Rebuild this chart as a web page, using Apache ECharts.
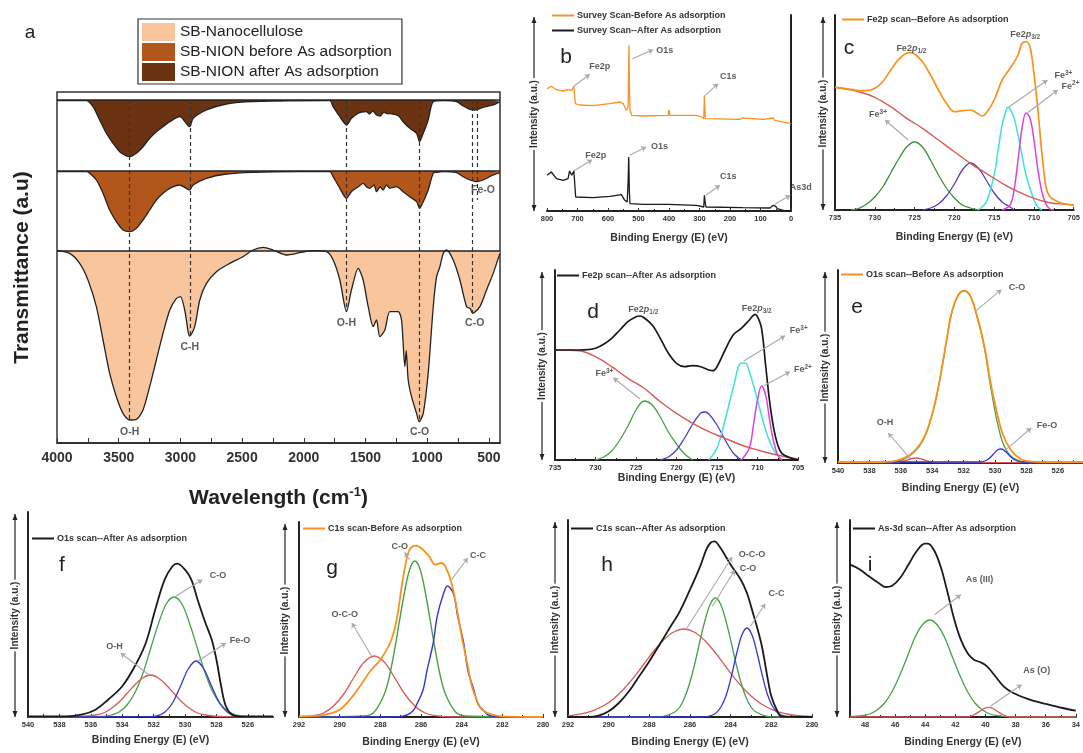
<!DOCTYPE html>
<html><head><meta charset="utf-8">
<script src="https://cdn.jsdelivr.net/npm/echarts@6/dist/echarts.min.js"></script>
<style>html,body{margin:0;padding:0;background:#fff}#c{width:1083px;height:753px}</style>
</head><body><div id="c"></div>
<script>
// ---------------- DATA ----------------
// (a) FTIR, relative transmittance (0 = baseline of each stacked spectrum)
const ftirNames = ['SB-Nanocellulose','SB-NION before As adsorption','SB-NION after As adsorption'];
const ftirNanocellulose = [[4000,0],[3897,-2.7],[3816,-12.7],[3749,-29.3],[3681,-56],[3627,-89.3],[3573,-122.7],[3519,-146],[3465,-162.7],[3411,-169.3],[3357,-168.7],[3303,-159.3],[3249,-136],[3195,-109.3],[3141,-82.7],[3086,-59.3],[3032,-47.7],[3000,-46],[2965,-59.3],[2935,-82.7],[2924,-85.3],[2884,-76],[2843,-49.3],[2789,-32.7],[2708,-21],[2600,-12.7],[2492,-6],[2411,0.7],[2330,3.3],[2249,0.7],[2141,-4.3],[2032,-2],[1924,0],[1816,-1],[1762,-9.3],[1708,-29.3],[1654,-61],[1614,-39.3],[1559,-17.7],[1519,-29.3],[1478,-56],[1438,-76],[1411,-69.3],[1384,-86],[1343,-79.3],[1303,-61],[1235,-61],[1208,-69.3],[1181,-116],[1170,-100],[1154,-129.3],[1127,-146],[1086,-162.7],[1065,-171],[1032,-162.7],[992,-122.7],[951,-56],[924,-26],[897,-16],[870,-2.7],[843,0.7],[789,-9.3],[735,-29.3],[681,-56],[650,-58],[632,-62.7],[573,-56],[519,-39.3],[465,-22.7],[411,-2.7]];
const ftirNionBefore = [[4000,-0.7],[3762,-0.7],[3735,-2.3],[3681,-9],[3627,-22.3],[3573,-39],[3519,-50.7],[3465,-59],[3411,-60.7],[3357,-57.3],[3303,-49],[3249,-39],[3195,-29],[3141,-22.3],[3086,-17.3],[3005,-14],[2925,-19],[2897,-14],[2789,-7.3],[2627,-3],[2411,-1.3],[2032,-0.7],[1789,-0.7],[1762,-5.7],[1708,-17.3],[1654,-27.3],[1614,-20.7],[1559,-15.7],[1519,-12.3],[1490,-16],[1465,-17.3],[1430,-14],[1411,-20.7],[1380,-16],[1357,-19],[1330,-14],[1303,-17.3],[1249,-15.7],[1195,-20.7],[1141,-25.7],[1086,-30.7],[1062,-37.3],[1032,-30.7],[992,-19],[951,-2.3],[924,-1.3],[870,-0.7],[762,-1.7],[708,-5.7],[654,-9],[600,-10.7],[546,-9],[465,-4],[411,-1.7]];
const ftirNionAfter = [[4000,-0.7],[3762,-0.7],[3708,-6.7],[3654,-20],[3600,-33.3],[3546,-43.3],[3492,-51.7],[3438,-56],[3411,-56.7],[3357,-53.3],[3303,-46.7],[3249,-38.3],[3195,-31.7],[3141,-26.7],[3086,-21.7],[3005,-16.7],[2925,-26.7],[2897,-18.3],[2789,-10],[2627,-4],[2411,-1.7],[1789,-0.7],[1762,-6.7],[1708,-16.7],[1654,-25],[1614,-18.3],[1559,-13.3],[1530,-12],[1492,-11.7],[1470,-14],[1440,-11],[1411,-15],[1380,-16],[1350,-12],[1330,-13.3],[1280,-14],[1249,-15],[1230,-16],[1195,-21.7],[1141,-28.3],[1086,-33.3],[1062,-41.7],[1032,-33.3],[992,-20],[951,-1.7],[870,-0.7],[762,-1.7],[708,-6],[654,-9.3],[614,-10],[546,-7.3],[465,-5],[411,-1.7]];
const ftirBands = [3411,2924,1654,1065,632,595];
const ftirBandLabels = [['O-H',3411],['C-H',2924],['O-H',1654],['C-O',1062],['C-O',615],['Fe-O',548]];
const ftirTickLabels = [4000,3500,3000,2500,2000,1500,1000,500];

// (b) survey
const surveyNames = ['Survey Scan-Before As adsorption','Survey Scan--After As adsorption'];
const surveyBefore = [[800,122.3],[786,124.7],[769,121.3],[747,120],[731,121.3],[726,123.3],[719,120.7],[712,124.7],[707,107.3],[693,106],[649,105.3],[594,107.3],[561,109],[550,107.3],[540,100.7],[534,104],[532,150],[531,165.7],[530,130],[528,100.7],[522,95.7],[485,95],[403,95.7],[400,101.3],[397,95.7],[310,95.7],[293,94],[286,92.3],[284,115.7],[282,98],[280,92.3],[277,90.7],[167,91.7],[160,93],[155,91.7],[91,91.7],[58,93],[53,90.7],[0,87.3]];
const surveyAfter = [[800,35.7],[786,39],[769,32.3],[747,30.7],[731,32.3],[726,40],[719,35.7],[712,40],[706,14],[649,13.3],[594,14.7],[556,16.3],[545,10.7],[537,9],[534,30],[532,54],[530,20],[528,7.3],[485,6.7],[403,6.7],[400,8],[397,6.7],[310,5.7],[286,4],[284,15.7],[282,10],[279,4],[157,3.3],[69,3],[58,5.7],[50,4.7],[45,2.3],[25,0.7],[0,0]];

// (c) Fe2p before
const fe2pBeforeEnvelope = [[735,122.7],[733,120.7],[732,119.3],[731,119.3],[730,121.7],[729,128.3],[728,140],[727,150.7],[726,156.7],[725.5,157.3],[725,156],[724,148.3],[723,135],[722,120],[721,106.7],[720,98.3],[719,99.3],[718,100],[717,96],[716.5,94],[716,96.7],[715,110],[714,130],[713,141.7],[712,155],[711.5,166.7],[711,168.3],[710.5,163.3],[710,136.7],[709.5,100],[709,56.7],[708.5,23.3],[708,13.3],[707,8.3],[706,6],[705,5]];
const fe2pBeforeBackground = [[735,122.7],[732,118.3],[730,112.7],[728,103.3],[726,91.7],[724,81.7],[722,70],[720,58.3],[718,46.7],[716,36.7],[714,26.7],[712,18.3],[710,11.7],[708,7.3],[706,5.7],[705,5]];
const fe2pBeforeFe3Sat = [[733,0],[732,1.7],[731,6],[730,13],[729,23],[728,37],[727,51],[726,63],[725,68],[724,63],[723,50],[722,35],[721,22],[720,12],[719,5],[718,2],[717,0]];
const fe2pBeforeSat = [[724,0],[723,2],[722,6],[721,14],[720,26],[719,40],[718,47],[717,42],[716,30],[715,17],[714,8],[713,3],[712.5,0]];
const fe2pBeforeFe3 = [[717,0],[716,8],[715,35],[714.5,60],[714,85],[713.5,100],[713.3,102.7],[713,101],[712.5,92],[712,75],[711.5,55],[711,35],[710,10],[709.5,3],[709,0]];
const fe2pBeforeFe2 = [[714,0],[713,5],[712.5,20],[712,50],[711.5,82],[711,97],[710.5,92],[710,70],[709.5,40],[709,18],[708.5,6],[708,1],[707.5,0]];

// (d) Fe2p after
const fe2pAfterEnvelope = [[735,110],[733,110],[732,110],[731,110.3],[730,111.7],[729,115.7],[728,121.7],[727,130],[726,138.3],[725,143.3],[724.5,144],[724,142.3],[723,135],[722,121.7],[721,106.7],[720,96.7],[719,93.3],[718,94.3],[717,93.3],[716,90],[715.5,89.3],[715,93.3],[714,110],[713,125],[712,131.7],[711,140],[710.3,145.7],[710,143.3],[709.5,131.7],[709,95],[708.5,58.3],[708,31.7],[707.5,15],[707,6.7],[706,2.3],[705,0]];
const fe2pAfterBackground = [[735,110],[732,109.3],[730,103.3],[728,93.3],[726,81.7],[724,71.7],[722,58.3],[720,46.7],[718,36.7],[716,28.3],[714,21.7],[712,15],[710,10],[708,5.7],[706,2.3],[705,1]];
const fe2pAfterFe3Sat = [[730,0],[729,3],[728,9],[727,20],[726,34],[725,50],[724,59],[723,55],[722,43],[721,28],[720,16],[719,6],[718,0]];
const fe2pAfterSat = [[722,0],[721,3],[720,10],[719,22],[718,36],[717,47],[716.5,48],[716,46],[715,35],[714,20],[713,7],[712,0]];
const fe2pAfterFe3 = [[716,0],[715,12],[714,40],[713,72],[712,97],[711.5,97],[711,88],[710,60],[709,30],[708,10],[707,0]];
const fe2pAfterFe2 = [[712,0],[711,12],[710.5,35],[710,60],[709.5,74],[709,65],[708.5,40],[708,18],[707.5,5],[707,0]];

// (e) O1s before
const o1sBeforeEnvelope = [[540,1],[537.5,1],[536.5,1.7],[535.9,4.3],[535.4,8.3],[534.8,18.3],[534.35,31.7],[533.9,55],[533.5,85],[533.1,121.7],[532.8,148],[532.4,166.7],[532.0,172.3],[531.6,167.7],[531.2,150],[530.7,118.3],[530.3,81.7],[529.9,51.7],[529.5,28.3],[529.0,13.3],[528.4,4.3],[527.8,1.7],[526.9,1],[524.4,1]];
const o1sBeforeCO = [[540,0.5],[536.5,0.5],[535.9,3],[535.4,7.5],[534.8,17],[534.35,31],[533.9,54.5],[533.5,84.5],[533.1,121],[532.8,147.5],[532.4,166],[532.0,172],[531.6,167.5],[531.2,149.5],[530.7,117],[530.3,78],[529.9,44],[529.5,20],[529.0,7],[528.4,2],[527.8,0.5],[524.4,0.5]];
const o1sBeforeOH = [[540,0.3],[536.3,0.3],[535.8,2],[535.3,4.5],[535.0,5],[534.6,3.5],[534.2,1.5],[533.7,0.3],[524.4,0.3]];
const o1sBeforeFeO = [[540,1],[531.0,1],[530.5,3],[530.1,9],[529.8,13.5],[529.6,14],[529.3,11],[529.0,6],[528.6,2],[528.2,1],[525.6,1]];

// (f) O1s after
const o1sAfterEnvelope = [[540,0.7],[537.6,0.7],[536.6,2.3],[535.7,7.3],[534.9,17.3],[534.0,30.7],[533.2,50.7],[532.5,74],[531.9,107.3],[531.3,137.3],[530.8,150.7],[530.5,153.3],[530.0,147.3],[529.6,137.3],[529.2,117.3],[528.7,94],[528.3,77.3],[528.0,57.3],[527.7,30.7],[527.4,10.7],[527.0,2.3],[526.5,0.7],[524.4,0.7]];
const o1sAfterCO = [[540,0],[535.2,0.5],[534.7,2],[534.2,5],[533.7,12],[533.2,24],[532.7,43],[532.2,68],[531.7,93],[531.2,113],[530.7,120],[530.2,113],[529.7,93],[529.2,68],[528.7,43],[528.2,24],[527.7,12],[527.2,5],[526.7,2],[526.2,0.5],[524.4,0]];
const o1sAfterOH = [[540,0],[536.7,0.5],[536.2,1],[535.7,2],[535.2,4],[534.7,8.5],[534.2,15],[533.7,23.5],[533.2,32],[532.7,39],[532.2,42],[531.7,39],[531.2,32],[530.7,23.5],[530.2,15],[529.7,8.5],[529.2,4],[528.7,2],[528.2,1],[527.5,0.3],[524.4,0]];
const o1sAfterFeO = [[540,0],[532.3,0.3],[531.8,1],[531.3,4.7],[530.8,14],[530.3,30.5],[529.8,48],[529.3,56],[528.8,48],[528.3,30.5],[527.8,14],[527.3,4.7],[526.8,1],[526.3,0.3],[524.4,0]];

// (g) C1s before
const c1sBeforeEnvelope = [[292,0.7],[291,1.3],[290.5,3.3],[290,7.3],[289.5,17.3],[289,30.7],[288.5,45.7],[288,57.3],[287.5,75],[287.2,97],[286.9,137],[286.6,165.7],[286.3,171.3],[286,169],[285.6,160.7],[285.3,152.3],[285,154],[284.8,150.7],[284.5,134],[284.2,104],[284,80.7],[283.7,50.7],[283.5,30.7],[283.2,14],[283,7.3],[282.5,2.3],[282,0.7],[280,0]];
const c1sBeforeOCO = [[292,0],[291.3,1.3],[290.8,4],[290.3,11],[289.8,23],[289.3,39.5],[288.8,54.7],[288.3,61],[287.8,54.7],[287.3,39.5],[286.8,23],[286.3,11],[285.8,4],[285.3,1.3],[284.5,0],[280,0]];
const c1sBeforeCO = [[292,0],[288.8,1],[288.3,5],[287.8,23],[287.55,41],[287.3,67],[287.05,97],[286.8,126],[286.55,148],[286.3,156],[286.05,148],[285.8,126],[285.55,97],[285.3,67],[285.05,41],[284.8,23],[284.3,5],[283.8,1],[280,0]];
const c1sBeforeCC = [[292,0],[287.2,0],[286.7,2],[286.4,6],[286.2,13],[285.9,27],[285.7,47],[285.4,74],[285.2,101],[284.9,123],[284.7,131],[284.4,123],[284.2,101],[283.9,74],[283.7,47],[283.4,27],[283.2,13],[282.9,6],[282.7,2],[282.2,0],[280,0]];

// (h) C1s after
const c1sAfterEnvelope = [[292,0],[291,0],[290.5,1.3],[290,5.7],[289.5,14],[289,25.7],[288.5,40.7],[288,55.7],[287.5,72.3],[287,89],[286.5,105.7],[286,127.3],[285.5,150.7],[285.2,167.3],[285,174],[284.8,175.7],[284.5,169],[284,152.3],[283.5,137.3],[283.2,124],[283,110.7],[282.5,74],[282.2,40.7],[282,20.7],[281.7,5.7],[281.5,0.7],[280,0]];
const c1sAfterOCO = [[292,1],[291.3,3.3],[290.8,6.2],[290.3,10.8],[289.8,17.6],[289.3,27],[288.8,38.6],[288.3,52],[287.8,65.5],[287.3,77],[286.8,85],[286.3,88],[285.8,85],[285.3,77],[284.8,65.5],[284.3,52],[283.8,38.6],[283.3,27],[282.8,17.6],[282.3,10.8],[281.8,6.2],[281.3,3.3],[280.8,1.5],[280,0.5]];
const c1sAfterCO = [[292,0],[287.6,0],[287.25,0.9],[286.75,5],[286.5,10],[286.25,20],[286.0,35],[285.75,54.5],[285.5,77],[285.25,97.5],[285.0,113],[284.75,119],[284.5,113],[284.25,97.5],[284.0,77],[283.75,54.5],[283.5,35],[283.25,20],[283.0,10],[282.75,5],[282.25,0.9],[281.9,0],[280,0]];
const c1sAfterCC = [[292,0],[285.3,0],[284.95,1.5],[284.7,4.4],[284.45,11],[284.2,23],[283.95,42],[283.7,64],[283.45,82],[283.2,89],[282.95,82],[282.7,64],[282.45,42],[282.2,23],[281.95,11],[281.7,4.4],[281.45,1.5],[281.1,0],[280,0]];

// (i) As3d after
const as3dEnvelope = [[49,152.3],[48.4,148],[47.74,140.7],[47.1,134],[46.65,130],[46.2,131.3],[45.67,139],[45.12,152.3],[44.58,165.7],[44.03,173.3],[43.82,173.3],[43.38,165.7],[42.95,149],[42.51,124],[42.07,97.3],[41.64,77.3],[41.2,64],[40.77,57.3],[40.33,54.7],[39.9,50.7],[39.35,40.7],[38.8,30.7],[38.15,24],[37.06,17.3],[35.97,13],[34.88,9],[34,6.3]];
const as3dAsIII = [[49,0.3],[48.2,1.3],[47.7,3],[47.2,7],[46.7,14],[46.2,25.5],[45.7,41.5],[45.2,60],[44.7,79],[44.2,92],[43.7,97],[43.2,92],[42.7,79],[42.2,60],[41.7,41.5],[41.2,25.5],[40.7,14],[40.2,7],[39.7,3],[39.2,1.3],[38.5,0.3],[34,0]];
const as3dAsO = [[49,0],[41.2,0],[40.8,2],[40.4,5.5],[40.1,8.5],[39.8,9.7],[39.5,8.5],[39.2,5.5],[38.8,2],[38.4,0],[34,0]];

const eLabels = [540,538,536,534,532,530,528,526];

// ---------------- LAYOUT ----------------
const FONT = "'Liberation Sans', Arial, sans-serif";
const keys = ['a','b','c','d','e','f','g','h','i'];
const L = {
  a:{left:57,top:92,width:443,height:351},
  b:{left:547,top:15,width:244,height:196},
  c:{left:835,top:15,width:245,height:195},
  d:{left:555,top:270,width:243,height:190},
  e:{left:838,top:270,width:245,height:193},
  f:{left:28,top:512,width:245,height:205},
  g:{left:299,top:522,width:244,height:195},
  h:{left:568,top:520,width:244,height:197},
  i:{left:850,top:520,width:233,height:197}
};
const gi = k => keys.indexOf(k);
const C = {orange:'#F7931E', black:'#1a1a1a', green:'#4A9E4A', blue:'#3636D2', red:'#D65A55', cyan:'#40E2D6', magenta:'#E041E0',
  light:'#F8C59C', mid:'#B3561B', dark:'#6B3311'};
const rich = {
  sub:{fontSize:6.5,fontWeight:'bold',color:'#333',fontFamily:FONT,padding:[5,0,0,0]},
  sup:{fontSize:6.5,fontWeight:'bold',color:'#333',fontFamily:FONT,padding:[0,0,6,0]},
  it:{fontSize:9,fontWeight:'bold',fontStyle:'italic',color:'#333',fontFamily:FONT}
};

const grid = keys.map(k => Object.assign({containLabel:false}, L[k], k==='a'?{show:true,borderColor:'#333',borderWidth:1.5}:{}));

function rangeTicks(a,b,s){const r=[];for(let v=a;v<=b+1e-9;v+=s)r.push(+v.toFixed(2));return r;}
const xCfg = {
  a:{min:410,max:4000,labels:ftirTickLabels,ticks:rangeTicks(500,4000,250)},
  b:{min:0,max:800,interval:100},
  c:{min:705,max:735,interval:5},
  d:{min:705,max:735,interval:5},
  e:{min:524.4,max:540,labels:eLabels,ticks:rangeTicks(525,540,1)},
  f:{min:524.4,max:540,labels:eLabels,ticks:rangeTicks(525,540,1)},
  g:{min:280,max:292,interval:2},
  h:{min:280,max:292,interval:2},
  i:{min:34,max:49,interval:2}
};
const nameGap = {b:22,c:22,d:12,e:20,f:18,g:20,h:20,i:20};
const xAxis = keys.map((k,idx) => {
  const c = xCfg[k];
  const ax = {type:'value', gridIndex:idx, min:c.min, max:c.max, inverse:true, splitLine:{show:false},
    axisLine:{show:true, onZero:false, lineStyle:{color:'#222', width:k==='a'?1.5:2}},
    axisTick:{show:true, inside:true, length:k==='a'?5:3, lineStyle:{color:'#333'}},
    axisLabel:{fontFamily:FONT, fontWeight:'bold', color:'#333', fontSize:k==='a'?14:7.5, margin:k==='a'?8:4, formatter:v => String(v),
      showMaxLabel: k==='i' ? false : null},
    name:'Binding Energy (E) (eV)', nameLocation:'middle', nameGap:nameGap[k],
    nameTextStyle:{fontFamily:FONT, fontWeight:'bold', fontSize:10.5, color:'#333'}};
  if (c.interval) { ax.interval = c.interval; ax.minorTick = {show:true, splitNumber:2, length:2}; }
  if (c.labels) { ax.axisLabel.customValues = c.labels; ax.axisTick.customValues = c.ticks; }
  if (k==='a') {
    ax.name = 'Wavelength (cm{sup|-1})';
    ax.nameGap = 43;
    ax.nameTextStyle = {fontFamily:FONT, fontWeight:'bold', fontSize:21, color:'#222',
      rich:{sup:{fontFamily:FONT, fontWeight:'bold', fontSize:13, color:'#222', padding:[0,0,12,0]}}};
  }
  return ax;
});
const yAxis = keys.map((k,idx) => {
  const ax = {type:'value', gridIndex:idx, min:0, max:L[k].height, splitLine:{show:false}, axisTick:{show:false}, axisLabel:{show:false},
    axisLine:{show:k!=='a', lineStyle:{color:'#222', width:2}}};
  if (k==='a') { ax.max = 351; ax.name = 'Transmittance (a.u)'; ax.nameLocation='middle'; ax.nameGap=24;
    ax.nameTextStyle={fontFamily:FONT, fontWeight:'bold', fontSize:21, color:'#222'}; }
  return ax;
});

// ---------------- SERIES ----------------
const series = [];
function line(k, name, data, color, width, z, smooth){
  series.push({type:'line', name, xAxisIndex:gi(k), yAxisIndex:gi(k), data, symbol:'none', smooth:smooth===undefined?0.35:smooth,
    lineStyle:{color, width}, itemStyle:{color}, z:z||2, silent:true, animation:false});
}
function arrows(k, list){
  series.push({type:'lines', coordinateSystem:'cartesian2d', xAxisIndex:gi(k), yAxisIndex:gi(k), clip:false, silent:true, z:8,
    symbol:['none','arrow'], symbolSize:5, lineStyle:{color:'#aaa', width:1.1, opacity:1, curveness:0}, animation:false,
    data:list.map(c => ({coords:c}))});
}
function texts(k, list, size){
  series.push({type:'scatter', xAxisIndex:gi(k), yAxisIndex:gi(k), symbolSize:0, clip:false, silent:true, z:9, animation:false,
    label:{show:true, position:'inside', fontFamily:FONT, fontWeight:'bold', fontSize:size||9, color:'#333', rich},
    data:list.map(t => ({value:[t[0],t[1]], label:{formatter:t[2]}}))});
}

// (a) stacked FTIR with fills hanging from each baseline
const aBase = [192.3, 272, 343];
const aSets = [ftirNanocellulose, ftirNionBefore, ftirNionAfter];
const aFill = [C.light, C.mid, C.dark];
aSets.forEach((set,j) => {
  series.push({type:'line', name:ftirNames[j], xAxisIndex:0, yAxisIndex:0, symbol:'none', smooth:0.25, silent:true, animation:false,
    data:set.map(p => [p[0], aBase[j] + p[1]]), lineStyle:{color:'#222', width:1.3}, itemStyle:{color:aFill[j]},
    areaStyle:{color:aFill[j], opacity:1, origin:aBase[j]}, z:2});
});
series.push({type:'lines', coordinateSystem:'cartesian2d', xAxisIndex:0, yAxisIndex:0, silent:true, z:3, animation:false,
  lineStyle:{color:'#222', width:1.6, opacity:1},
  data:aBase.map(v => ({coords:[[410,v],[4000,v]]}))});
const aBottomEnds = [23, 107, 131, 21, 130, 243];
series.push({type:'lines', coordinateSystem:'cartesian2d', xAxisIndex:0, yAxisIndex:0, silent:true, z:4, animation:false,
  lineStyle:{color:'#333', width:1.2, type:[4,3], opacity:1},
  data:ftirBands.map((x,j) => ({coords:[[x,aBase[2]],[x,aBottomEnds[j]]]}))});
texts('a', [[ftirBandLabels[0][1],11,'O-H'],[ftirBandLabels[1][1],96,'C-H'],[ftirBandLabels[2][1],120,'O-H'],[ftirBandLabels[3][1],11,'C-O'],[ftirBandLabels[4][1],120,'C-O'],[ftirBandLabels[5][1],253,'Fe-O']], 10.5);

// (b)
line('b', surveyNames[0], surveyBefore, C.orange, 1.3, 3, false);
line('b', surveyNames[1], surveyAfter, C.black, 1.3, 3, false);
arrows('b', [[[712,124.7],[660,136.7]], [[520,152.3],[452,161.3]], [[281,115.7],[239,127.3]],
             [[712,40],[652,51.3]], [[529,55.7],[475,64]], [[279,15.7],[233,25.7]], [[53,6.7],[2,15.7]]]);
texts('b', [[627,144,'Fe2p'],[414,160.7,'O1s'],[206,134.7,'C1s'],[640,55.7,'Fe2p'],[431,64,'O1s'],[206,34,'C1s'],[-32,23,'As3d']]);

// (c)
const cN = 'Fe2p scan--Before As adsorption';
line('c', cN, fe2pBeforeEnvelope, C.orange, 1.7, 4);
line('c', 'c-bg', fe2pBeforeBackground, C.red, 1.4, 3);
line('c', 'c-g', fe2pBeforeFe3Sat, '#3F8F3F', 1.3, 2);
line('c', 'c-b', fe2pBeforeSat, '#4B3FC4', 1.3, 2);
line('c', 'c-c', fe2pBeforeFe3, C.cyan, 1.5, 2);
line('c', 'c-m', fe2pBeforeFe2, C.magenta, 1.5, 2);
arrows('c', [[[713.2,102.7],[708.3,130]], [[710.8,97.3],[707.0,120]], [[725.8,70],[728.7,90]]]);
texts('c', [[725.4,161.7,'Fe2{it|p}{sub|1/2}'],[711.1,175,'Fe2{it|p}{sub|3/2}'],[706.3,134,'Fe{sup|3+}'],[705.4,123.3,'Fe{sup|2+}'],[729.6,95,'Fe{sup|3+}']]);

// (d)
const dN = 'Fe2p scan--After As adsorption';
line('d', dN, fe2pAfterEnvelope, C.black, 1.7, 4);
line('d', 'd-bg', fe2pAfterBackground, C.red, 1.4, 3);
line('d', 'd-g', fe2pAfterFe3Sat, C.green, 1.3, 2);
line('d', 'd-b', fe2pAfterSat, '#4B3FC4', 1.3, 2);
line('d', 'd-c', fe2pAfterFe3, C.cyan, 1.5, 2);
line('d', 'd-m', fe2pAfterFe2, C.magenta, 1.5, 2);
arrows('d', [[[711.7,99],[706.6,124.3]], [[709.2,74.3],[706,88.3]], [[724.5,61],[727.8,82.3]]]);
texts('d', [[724.1,150,'Fe2{it|p}{sub|1/2}'],[710.1,151,'Fe2{it|p}{sub|3/2}'],[704.9,129,'Fe{sup|3+}'],[704.4,90,'Fe{sup|2+}'],[728.9,86,'Fe{sup|3+}']]);

// (e)
const eN = 'O1s scan--Before As adsorption';
line('e', 'e-g', o1sBeforeCO, C.green, 1.3, 2);
line('e', 'e-r', o1sBeforeOH, C.red, 1.3, 2);
line('e', 'e-b', o1sBeforeFeO, C.blue, 1.3, 2);
line('e', eN, o1sBeforeEnvelope, C.orange, 1.8, 4);
arrows('e', [[[531.2,152.3],[529.6,173.3]], [[535.4,4.3],[536.8,30]], [[529.3,13.3],[527.7,35]]]);
texts('e', [[528.6,175,'C-O'],[537.0,40,'O-H'],[526.7,37.7,'Fe-O']]);

// (f)
const fN = 'O1s scan--After As adsorption';
line('f', 'f-g', o1sAfterCO, C.green, 1.3, 2);
line('f', 'f-r', o1sAfterOH, C.red, 1.3, 2);
line('f', 'f-b', o1sAfterFeO, C.blue, 1.3, 2);
line('f', fN, o1sAfterEnvelope, C.black, 1.8, 4);
arrows('f', [[[530.6,120.7],[528.9,137.3]], [[532.3,42.3],[534.1,64]], [[529.2,55.7],[527.4,74]]]);
texts('f', [[527.9,141.3,'C-O'],[534.5,70.7,'O-H'],[526.5,76.7,'Fe-O']]);

// (g)
const gN = 'C1s scan-Before As adsorption';
line('g', 'g-r', c1sBeforeOCO, C.red, 1.3, 2);
line('g', 'g-g', c1sBeforeCO, C.green, 1.4, 2);
line('g', 'g-b', c1sBeforeCC, C.blue, 1.4, 2);
line('g', gN, c1sBeforeEnvelope, C.orange, 1.8, 4);
arrows('g', [[[286.56,157.3],[286.8,164.7]], [[284.5,137.3],[283.7,159]], [[288.44,61.3],[289.4,94]]]);
texts('g', [[287.05,170.7,'C-O'],[283.2,161.3,'C-C'],[289.75,102.3,'O-C-O']]);

// (h)
const hN = 'C1s scan--After As adsorption';
line('h', 'h-r', c1sAfterOCO, C.red, 1.3, 2);
line('h', 'h-g', c1sAfterCO, C.green, 1.3, 2);
line('h', 'h-b', c1sAfterCC, C.blue, 1.3, 2);
line('h', hN, c1sAfterEnvelope, C.black, 1.8, 4);
arrows('h', [[[286.15,89],[283.93,160]], [[284.9,110.7],[283.8,146.7]], [[283.03,90.7],[282.3,113.3]]]);
texts('h', [[282.95,162.3,'O-C-O'],[283.15,148,'C-O'],[281.75,123.3,'C-C']]);

// (i)
const iN = 'As-3d scan--After As adsorption';
line('i', 'i-g', as3dAsIII, C.green, 1.3, 2);
line('i', 'i-r', as3dAsO, C.red, 1.3, 2);
line('i', iN, as3dEnvelope, C.black, 1.8, 4);
arrows('i', [[[43.38,102.3],[41.64,122.3]], [[39.68,10.7],[37.6,32.3]]]);
texts('i', [[40.4,137.3,'As (III)'],[36.6,46.7,'As (O)']]);

// ---------------- LEGENDS ----------------
function lg(left, top, names, colors){
  return {left, top, orient:'vertical', padding:0, itemGap:6, itemWidth:22, itemHeight:2, icon:'rect', selectedMode:false,
    textStyle:{fontFamily:FONT, fontWeight:'bold', fontSize:9, color:'#333', padding:[0,0,0,-2]},
    data:names.map((n,j) => ({name:n, itemStyle:{color:colors[j]}}))};
}
const legend = [
  {left:138, top:19, orient:'vertical', padding:[4,10,3,4], itemGap:2, itemWidth:33, itemHeight:18, icon:'rect', selectedMode:false,
   borderColor:'#333', borderWidth:1.2, textStyle:{fontFamily:FONT, fontSize:15.5, color:'#222'},
   data:ftirNames.map((n,j) => ({name:n, itemStyle:{color:aFill[j], borderWidth:0}}))},
  lg(552, 11, surveyNames, [C.orange, C.black]),
  lg(842, 15, [cN], [C.orange]),
  lg(557, 271, [dN], [C.black]),
  lg(841, 270, [eN], [C.orange]),
  lg(32, 534, [fN], [C.black]),
  lg(303, 524, [gN], [C.orange]),
  lg(571, 524, [hN], [C.black]),
  lg(853, 524, [iN], [C.black])
];

// ---------------- GRAPHIC (panel letters, intensity arrows) ----------------
const graphic = [];
const letters = {a:[30,33],b:[566,57],c:[849,48],d:[593,312],e:[857,307],f:[62,565],g:[332,568],h:[607,565],i:[870,565]};
keys.forEach(k => graphic.push({type:'text', x:letters[k][0], y:letters[k][1], silent:true,
  style:{text:k, fontFamily:FONT, fontSize:k==='a'?19:21, fill:'#222', align:'center', verticalAlign:'middle'}}));
const arrowX = {b:534,c:823,d:542,e:825,f:15,g:285,h:555,i:837};
Object.keys(arrowX).forEach(k => {
  const x = arrowX[k], t = L[k].top + 2, b = L[k].top + L[k].height;
  graphic.push({type:'line', silent:true, shape:{x1:x,y1:t,x2:x,y2:b}, style:{stroke:'#222', lineWidth:1.2}});
  graphic.push({type:'polygon', silent:true, shape:{points:[[x-2.5,t+6],[x,t],[x+2.5,t+6]]}, style:{fill:'#222'}});
  graphic.push({type:'polygon', silent:true, shape:{points:[[x-2.5,b-6],[x,b],[x+2.5,b-6]]}, style:{fill:'#222'}});
  graphic.push({type:'text', silent:true, x:x, y:(t+b)/2, rotation:Math.PI/2, z:10,
    style:{text:'Intensity (a.u.)', fontFamily:FONT, fontWeight:'bold', fontSize:10, fill:'#333', align:'center', verticalAlign:'middle',
      backgroundColor:'#fff', padding:[0,2]}});
});

const chart = echarts.init(document.getElementById('c'), null, {renderer:'canvas'});
chart.setOption({animation:false, backgroundColor:'#fff', textStyle:{fontFamily:FONT}, grid, xAxis, yAxis, series, legend, graphic});
</script></body></html>
